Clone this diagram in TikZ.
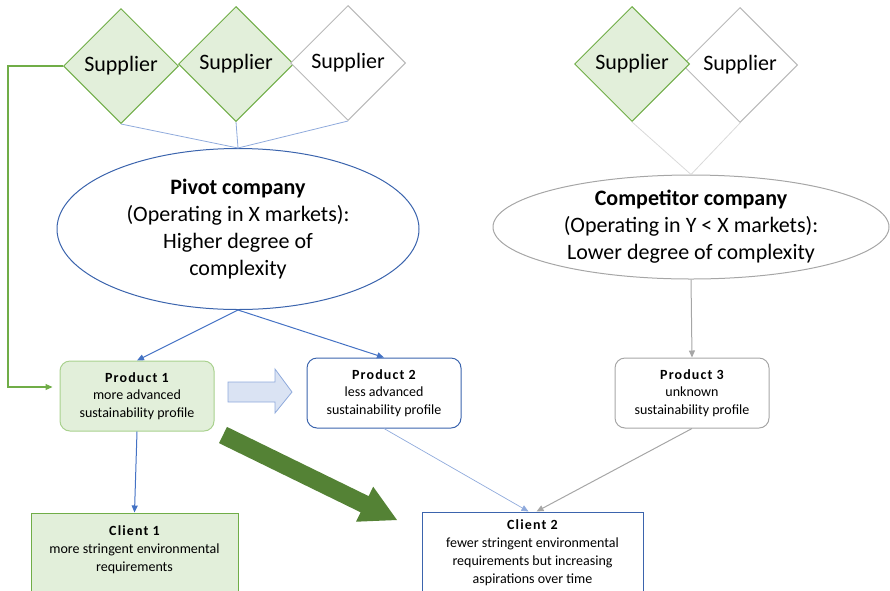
\documentclass[tikz,border=0pt]{standalone}
\usepackage{fontspec}
\setmainfont{Carlito}
\usetikzlibrary{shapes.geometric}
\usetikzlibrary{arrows.meta}

\definecolor{suppgreen}{HTML}{70AD47}
\definecolor{lightgreen}{HTML}{E2EFDA}
\definecolor{paleborder}{HTML}{A9D18E}
\definecolor{darkgreen}{HTML}{548235}
\definecolor{pivotblue}{HTML}{3B64AD}
\definecolor{arrowblue}{HTML}{4472C4}
\definecolor{lineblue}{HTML}{8FAADC}
\definecolor{paleblue}{HTML}{DAE3F3}
\definecolor{compgray}{HTML}{A6A6A6}
\definecolor{lightgray}{HTML}{D9D9D9}

\newcommand{\boxtitle}[1]{{\bfseries\addfontfeature{LetterSpace=8}#1}\\}

\tikzset{
	supplier/.style = {diamond, draw=suppgreen, fill=lightgreen, line width=1pt,
		minimum size=115pt, inner sep=0pt, font=\fontsize{22}{26}\selectfont},
	plainsupp/.style = {draw=compgray!80, fill=white},
	company/.style = {ellipse, line width=1pt, inner sep=0pt, align=center,
		font=\fontsize{22}{27}\selectfont},
	product/.style = {rectangle, rounded corners=10pt, line width=1pt,
		minimum width=154pt, minimum height=70pt, align=center,
		font=\fontsize{14}{17.5}\selectfont},
	client/.style = {rectangle, line width=1pt, align=center,
		font=\fontsize{14}{18}\selectfont},
	flow/.style = {line width=1pt, arrowblue, -{Triangle[length=7pt,width=6pt]}},
}

\begin{document}
\begin{tikzpicture}[x=1pt, y=-1pt]
	\useasboundingbox (0,0) rectangle (890,590);
	% suppliers
	\node [supplier] (s1) at (121,66) {Supplier};
	\node [supplier] (s2) at (236,64) {Supplier};
	\node [supplier, plainsupp] (s3) at (348,63) {Supplier};
	\node [supplier, plainsupp] (s5) at (740,65) {Supplier};
	\node [supplier] (s4) at (632,64) {Supplier};
	%
	\node [company, draw=pivotblue, minimum width=362pt, minimum height=161pt] (pivot) at (238,229)
		{\textbf{Pivot company}\\(Operating in X markets):\\Higher degree of\\complexity};
	\node [company, draw=compgray, minimum width=396pt, minimum height=104pt] (comp) at (691,227)
		{\textbf{Competitor company}\\(Operating in Y < X markets):\\Lower degree of complexity};
	%
	\draw [lineblue, line width=0.8pt] (s1.south) -- (pivot.north);
	\draw [lineblue, line width=0.8pt] (s2.south) -- (pivot.north);
	\draw [lineblue, line width=0.8pt] (s3.south) -- (pivot.north);
	\draw [lightgray, line width=0.8pt] (s4.south) -- (comp.north);
	\draw [lightgray, line width=0.8pt] (s5.south) -- (comp.north);
	%
	\node [product, draw=paleborder, fill=lightgreen] (p1) at (137,396)
		{\boxtitle{Product 1}more advanced\\sustainability profile};
	\node [product, draw=pivotblue] (p2) at (384,393)
		{\boxtitle{Product 2}less advanced\\sustainability profile};
	\node [product, draw=compgray] (p3) at (692,393)
		{\boxtitle{Product 3}unknown\\sustainability profile};
	%
	\node [client, draw=suppgreen, fill=lightgreen, minimum width=207pt, minimum height=90pt] (c1) at (134.5,558)
		{\boxtitle{Client 1}more stringent environmental\\requirements\\\mbox{}};
	\node [client, draw=pivotblue, minimum width=221pt, minimum height=82pt] (c2) at (532.5,553)
		{\boxtitle{Client 2}fewer stringent environmental\\requirements but increasing\\aspirations over time};
	%
	\draw [suppgreen, line width=1.2pt, -{Triangle[length=7pt,width=6pt]}, shorten >=7pt]
		(s1.west) -- ++(-55,0) |- ([yshift=9pt]p1.west);
	\draw [flow] (pivot.south) -- (p1.north);
	\draw [flow] (pivot.south) -- (p2.north);
	\draw [flow] (p1.south) -- (c1.north);
	\draw [flow, lineblue, line width=0.7pt] (p2.south) -- ([xshift=-4pt]c2.north);
	\draw [flow, compgray] (comp.south) -- (p3.north);
	\draw [flow, compgray] (p3.south) -- ([xshift=4pt]c2.north);
	% block arrows
	\draw [lineblue, fill=paleblue, line width=0.8pt] (228,382) -- (275,382) -- (275,369) -- (292,392)
		-- (275,413) -- (275,402) -- (228,402) -- cycle;
	\fill [darkgreen] (227,426.9) -- (368.6,496.1) -- (373.2,486.7) -- (397,520) -- (356,521.7)
		-- (360.6,512.3) -- (219,443.1) -- cycle;
\end{tikzpicture}
\end{document}
